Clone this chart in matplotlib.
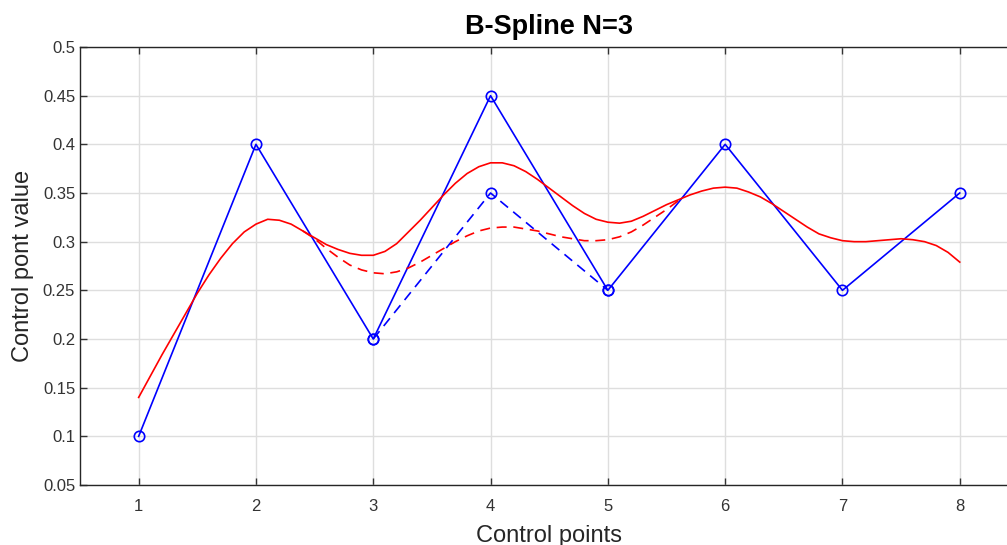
import matplotlib
matplotlib.use("Agg")
import matplotlib.pyplot as plt

# control polygon
ctrl_x = [1, 2, 3, 4, 5, 6, 7, 8]
ctrl_y = [0.1, 0.4, 0.2, 0.45, 0.25, 0.4, 0.25, 0.35]

# modified control points (dashed)
mod_x = [3, 4, 5]
mod_y = [0.2, 0.35, 0.25]

# spline curve
spline_x = [1.0, 1.1, 1.2, 1.3, 1.4, 1.5, 1.6, 1.7, 1.8, 1.9,
            2.0, 2.1, 2.2, 2.3, 2.4, 2.5, 2.6, 2.7, 2.8, 2.9,
            3.0, 3.1, 3.2, 3.3, 3.4, 3.5, 3.6, 3.7, 3.8, 3.9,
            4.0, 4.1, 4.2, 4.3, 4.4, 4.5, 4.6, 4.7, 4.8, 4.9,
            5.0, 5.1, 5.2, 5.3, 5.4, 5.5, 5.6, 5.7, 5.8, 5.9,
            6.0, 6.1, 6.2, 6.3, 6.4, 6.5, 6.6, 6.7, 6.8, 6.9,
            7.0, 7.1, 7.2, 7.3, 7.4, 7.5, 7.6, 7.7, 7.8, 7.9, 8.0]
spline_y = [0.140, 0.162, 0.184, 0.205, 0.226, 0.247, 0.266, 0.283, 0.298, 0.310,
            0.318, 0.323, 0.322, 0.318, 0.311, 0.304, 0.297, 0.292, 0.288, 0.286,
            0.286, 0.290, 0.298, 0.310, 0.322, 0.335, 0.348, 0.360, 0.370, 0.377,
            0.381, 0.381, 0.378, 0.372, 0.364, 0.355, 0.346, 0.337, 0.329, 0.323,
            0.320, 0.319, 0.321, 0.326, 0.332, 0.338, 0.343, 0.348, 0.352, 0.355,
            0.356, 0.355, 0.351, 0.346, 0.339, 0.331, 0.323, 0.315, 0.308, 0.304,
            0.301, 0.300, 0.300, 0.301, 0.302, 0.303, 0.302, 0.300, 0.296, 0.289,
            0.279]

# spline with modified point
mod_spline_x = [2.4, 2.5, 2.6, 2.7, 2.8, 2.9, 3.0, 3.1, 3.2, 3.3, 3.4, 3.5,
                3.6, 3.7, 3.8, 3.9, 4.0, 4.1, 4.2, 4.3, 4.4, 4.5, 4.6, 4.7,
                4.8, 4.9, 5.0, 5.1, 5.2, 5.3, 5.4, 5.5, 5.6]
mod_spline_y = [0.311, 0.303, 0.293, 0.284, 0.276, 0.271, 0.268, 0.267, 0.269,
                0.273, 0.279, 0.286, 0.293, 0.300, 0.306, 0.311, 0.314, 0.315,
                0.315, 0.313, 0.311, 0.308, 0.305, 0.303, 0.301, 0.301, 0.302,
                0.305, 0.310, 0.317, 0.325, 0.333, 0.342]

plt.rcParams['font.family'] = ['Liberation Sans', 'DejaVu Sans']

fig = plt.figure(figsize=(10.07, 5.45), dpi=100)
ax = fig.add_axes([80 / 1007, 60 / 545, 938.4 / 1007, 438 / 545])

ax.plot(ctrl_x, ctrl_y, color='#0000ff', lw=1.2, marker='o', ms=7.5,
        mfc='none', mec='#0000ff', mew=1.2, zorder=3)
ax.plot(mod_x, mod_y, color='#0000ff', lw=1.2, ls=(0, (6, 4)), marker='o', ms=7.5,
        mfc='none', mec='#0000ff', mew=1.2, zorder=3)
ax.plot(spline_x, spline_y, color='#ff0000', lw=1.2, zorder=3)
ax.plot(mod_spline_x, mod_spline_y, color='#ff0000', lw=1.2, ls=(0, (6, 4)), zorder=3)

ax.set_xlim(0.5, 8.5)
ax.set_ylim(0.05, 0.5)
ax.set_xticks(range(1, 9))
ax.set_yticks([0.05, 0.1, 0.15, 0.2, 0.25, 0.3, 0.35, 0.4, 0.45, 0.5])
ax.set_yticklabels(['0.05', '0.1', '0.15', '0.2', '0.25', '0.3', '0.35', '0.4', '0.45', '0.5'])

ax.grid(True, color='#dedede', lw=1.0)
ax.set_axisbelow(True)
ax.tick_params(direction='in', length=5, width=1, colors='#333333',
               labelsize=12, top=True, right=True)
ax.tick_params(axis='x', pad=10)
for s in ax.spines.values():
    s.set_color('#262626')
    s.set_linewidth(1.0)

ax.set_title('B-Spline N=3', fontsize=19.5, fontweight='bold', color='black', pad=9)
ax.set_xlabel('Control points', fontsize=17, color='#262626', labelpad=8)
ax.set_ylabel('Control pont value', fontsize=17, color='#262626', labelpad=6)

fig.savefig('out.png', dpi=100)
